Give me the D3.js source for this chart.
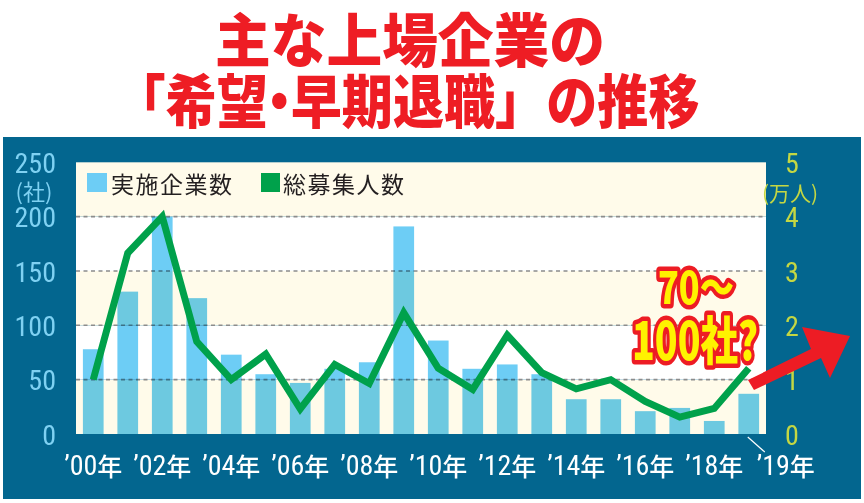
<!DOCTYPE html>
<html><head><meta charset="utf-8">
<script src="https://cdn.jsdelivr.net/npm/d3@7"></script>
<style>
html,body{margin:0;padding:0;background:#fff;}
svg{display:block;}
</style></head>
<body>
<svg id="chart" width="864" height="503"></svg>
<script>
const years = ["'00","'01","'02","'03","'04","'05","'06","'07","'08","'09","'10","'11","'12","'13","'14","'15","'16","'17","'18","'19"];
const companies = [78,131,200,125,73,55,47,60,66,191,86,60,64,55,32,32,21,24,12,37];
const applicants = [1.0,3.33,4.0,1.70,1.0,1.47,0.46,1.28,0.93,2.23,1.21,0.82,1.82,1.13,0.83,1.0,0.6,0.31,0.47,1.21];
const leftTicks = [0,50,100,150,200,250];
const rightTicks = [0,1,2,3,4,5];
const xLabelYears = ["'00","'02","'04","'06","'08","'10","'12","'14","'16","'18","'19"];
const seriesNames = ["実施企業数","総募集人数"];
const titleLine1 = "主な上場企業の";
const titleLine2Parts = ["「希望","・","早期退職」の推移"];
const noteLines = ["70〜","100社?"];

const svg = d3.select("#chart");
const P = {l:76, r:766, t:162.3, b:434};
const digitFont = "'Liberation Sans Narrow','Roboto Condensed','Liberation Sans',sans-serif";
const jpFont = "'Noto Sans CJK JP','Noto Sans CJK SC',sans-serif";

// title
svg.append("text").attr("x",410).attr("y",37).attr("text-anchor","middle").attr("dominant-baseline","central")
  .attr("font-family",jpFont).attr("font-weight",900).attr("font-size",58).attr("fill","#ee1d24")
  .attr("textLength",390).attr("lengthAdjust","spacingAndGlyphs").text(titleLine1);
const t2 = svg.append("text").attr("x",407).attr("y",98).attr("text-anchor","middle").attr("dominant-baseline","central")
  .attr("font-family",jpFont).attr("font-weight",900).attr("font-size",58).attr("fill","#ee1d24")
  .attr("textLength",585).attr("lengthAdjust","spacingAndGlyphs");
t2.append("tspan").text(titleLine2Parts[0]);
t2.append("tspan").attr("dx",-16).text(titleLine2Parts[1]);
t2.append("tspan").attr("dx",-16).text(titleLine2Parts[2]);

// panel
svg.append("rect").attr("x",3).attr("y",137).attr("width",858).attr("height",362).attr("fill","#03668f");

const x = d3.scaleBand().domain(years).range([P.l,P.r]).paddingInner(0.4).paddingOuter(0.2);
const yL = d3.scaleLinear().domain([0,250]).range([P.b,P.t]);
const yR = d3.scaleLinear().domain([0,5]).range([P.b,P.t]);

// background bands
const bands = [[0,50,"#fffbea"],[50,100,"#ffffff"],[100,150,"#fffbea"],[150,200,"#ffffff"],[200,250,"#fffbea"]];
svg.append("g").selectAll("rect").data(bands).join("rect")
  .attr("x",P.l).attr("width",P.r-P.l)
  .attr("y",d=>yL(d[1])).attr("height",d=>yL(d[0])-yL(d[1])).attr("fill",d=>d[2]);

// grid
svg.append("g").selectAll("line").data([50,100,150,200]).join("line")
  .attr("x1",P.l).attr("x2",P.r).attr("y1",d=>yL(d)).attr("y2",d=>yL(d))
  .attr("stroke","#8c8c8c").attr("stroke-width",1.6).attr("stroke-dasharray","4,3.5");

// bars
svg.append("g").style("mix-blend-mode","multiply").selectAll("rect").data(years).join("rect")
  .attr("x",d=>x(d)).attr("width",x.bandwidth())
  .attr("y",(d,i)=>yL(companies[i])).attr("height",(d,i)=>yL(0)-yL(companies[i]))
  .attr("fill","#6dcdf5");

// line
const line = d3.line().x((d,i)=>x(years[i])+x.bandwidth()/2).y(d=>yR(d));
svg.append("path").datum(applicants).attr("d",line).attr("fill","none")
  .attr("stroke","#00a14b").attr("stroke-width",7).attr("stroke-linejoin","miter");

// left axis
const axL = svg.append("g").attr("transform",`translate(56,0)`).call(d3.axisLeft(yL).tickValues(leftTicks).tickFormat(d3.format("d")).tickSize(0).tickPadding(0));
axL.select(".domain").remove();
axL.selectAll("text").attr("font-family",digitFont).attr("font-size",28).attr("fill","#7fd1f2").attr("dy","0.36em");
svg.append("text").attr("x",34).attr("y",190).attr("text-anchor","middle").attr("dominant-baseline","central")
  .attr("font-family",jpFont).attr("font-size",22).attr("fill","#7fd1f2").text("(社)");

// right axis
const axR = svg.append("g").attr("transform",`translate(792,0)`).call(d3.axisRight(yR).tickValues(rightTicks).tickFormat(d3.format("d")).tickSize(0).tickPadding(0));
axR.select(".domain").remove();
axR.selectAll("text").attr("text-anchor","middle").attr("font-family",digitFont).attr("font-size",28).attr("fill","#c4d743").attr("dy","0.36em");
svg.append("text").attr("x",790).attr("y",192).attr("text-anchor","middle").attr("dominant-baseline","central")
  .attr("font-family",jpFont).attr("font-size",21).attr("fill","#c4d743").text("(万人)");

// x labels
const xlab = svg.append("g").selectAll("text").data(xLabelYears).join("text")
  .attr("x",d=> d==="'19" ? x(d)+x.bandwidth()/2+37 : x(d)+x.bandwidth()/2)
  .attr("y",465).attr("text-anchor","middle").attr("dominant-baseline","central")
  .attr("fill","#ffffff").attr("font-size",28);
xlab.append("tspan").attr("font-family",digitFont).text(d=>d.replace("'","’"));
xlab.append("tspan").attr("font-family",jpFont).attr("font-weight",500).attr("font-size",25).text("年");
// leader for '19
svg.append("line").attr("x1",x("'19")+x.bandwidth()/2-1).attr("y1",437).attr("x2",x("'19")+x.bandwidth()/2+16).attr("y2",452)
  .attr("stroke","#ffffff").attr("stroke-width",1.2);

// legend
const lg = svg.append("g");
lg.append("rect").attr("x",87).attr("y",173).attr("width",20).attr("height",19).attr("fill","#6dcdf5");
lg.append("text").attr("x",111).attr("y",183).attr("dominant-baseline","central").attr("font-family",jpFont)
  .attr("font-size",23).attr("letter-spacing",1.5).attr("fill","#231f20").text(seriesNames[0]);
lg.append("rect").attr("x",261).attr("y",173).attr("width",19).attr("height",19).attr("fill","#00a14b");
lg.append("text").attr("x",283).attr("y",183).attr("dominant-baseline","central").attr("font-family",jpFont)
  .attr("font-size",23).attr("letter-spacing",1.5).attr("fill","#231f20").text(seriesNames[1]);

// annotation
const note = svg.append("g").attr("font-family",jpFont).attr("font-weight",900).attr("text-anchor","middle")
  .attr("fill","#fff200").attr("stroke","#ed1c24").attr("stroke-width",9).attr("stroke-linejoin","round").style("paint-order","stroke");
note.append("text").attr("x",696).attr("y",285).attr("dominant-baseline","central").attr("font-size",44)
  .attr("textLength",76).attr("lengthAdjust","spacingAndGlyphs").text(noteLines[0]);
note.append("text").attr("x",695).attr("y",337).attr("dominant-baseline","central").attr("font-size",52)
  .attr("textLength",126).attr("lengthAdjust","spacingAndGlyphs").text(noteLines[1]);

// arrow
svg.append("path").attr("d","M748,380 L811,349 L802,327 L850,336 L830,378 L821,358 L754,390 Z").attr("fill","#ed1c24");
</script>
</body></html>
